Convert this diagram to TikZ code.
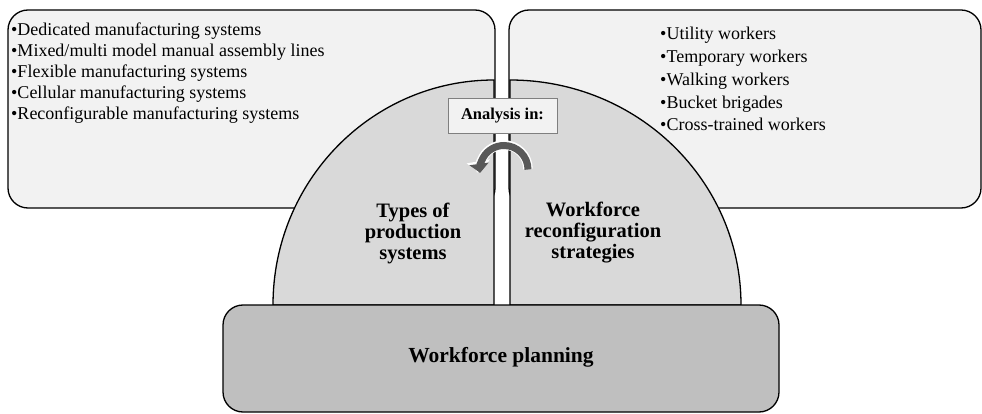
\documentclass[tikz,border=0pt]{standalone}
\usepackage{fontspec}
\setmainfont{Liberation Serif}
\usetikzlibrary{arrows.meta}
\definecolor{boxfill}{HTML}{F2F2F2}
\definecolor{quarterfill}{HTML}{D9D9D9}
\definecolor{basefill}{HTML}{BFBFBF}
\definecolor{framegray}{HTML}{7F7F7F}
\definecolor{arrowgray}{HTML}{595959}
\tikzset{
  listbox/.style={draw=black, line width=1.3pt, fill=boxfill, rounded corners=20pt},
  quarter/.style={draw=black, line width=1.3pt, fill=quarterfill},
  basebox/.style={draw=black, line width=1.3pt, fill=basefill, rounded corners=20pt},
  listitem/.style={anchor=base west, inner sep=0pt, font=\fontsize{18}{20}\selectfont},
  heading/.style={align=center, inner sep=0pt, font=\fontsize{20.5}{21}\selectfont\bfseries},
  tagbox/.style={draw=framegray, line width=0.8pt, fill=boxfill, minimum width=109pt, minimum height=35pt, inner sep=0pt, font=\fontsize{16.5}{18}\selectfont\bfseries}
}
\begin{document}
\begin{tikzpicture}[x=1pt,y=-1pt]
\useasboundingbox[fill=white] (0,0) rectangle (982,414);
% top list boxes
\draw[listbox] (8,10) rectangle (495,208);
\draw[listbox] (509,10) rectangle (981,208);
% quarter shapes
\draw[quarter] (494,305) -- (273,305) arc[start angle=180, end angle=90, x radius=221pt, y radius=225pt] -- cycle;
\draw[quarter] (510,305) -- (741,305) arc[start angle=0, end angle=90, x radius=231pt, y radius=225pt] -- cycle;
% base box
\draw[basebox] (223,305) rectangle (779,412);
% texts
\node[listitem] (l1) at (11,35.5) {•Dedicated manufacturing systems};
\node[listitem] (l2) at (11,56.6) {•Mixed/multi model manual assembly lines};
\node[listitem] (l3) at (11,77.7) {•Flexible manufacturing systems};
\node[listitem] (l4) at (11,98.8) {•Cellular manufacturing systems};
\node[listitem] (l5) at (11,120) {•Reconfigurable manufacturing systems};
\node[listitem] (r1) at (660,40) {•Utility workers};
\node[listitem] (r2) at (660,62.75) {•Temporary workers};
\node[listitem] (r3) at (660,85.5) {•Walking workers};
\node[listitem] (r4) at (660,108.25) {•Bucket brigades};
\node[listitem] (r5) at (660,131) {•Cross-trained workers};
\node[tagbox] (tag) at (502.5,115.5) {Analysis in:};
% curved arrow
\draw[white, line width=9.5pt, -{Triangle[width=23pt,length=12pt]}] (528,169) arc[start angle=0, end angle=190, radius=24pt];
\draw[arrowgray, line width=7pt, -{Triangle[width=19pt,length=9pt]}] (528,169.5) arc[start angle=0, end angle=188, radius=24pt];
\node[heading] (types) at (413,233) {Types of\\production\\systems};
\node[heading] (strat) at (593,233) {Workforce\\reconfiguration\\strategies};
\node[heading] (plan) at (501,357) {\fontsize{21.5}{23}\selectfont Workforce planning};
\end{tikzpicture}
\end{document}
